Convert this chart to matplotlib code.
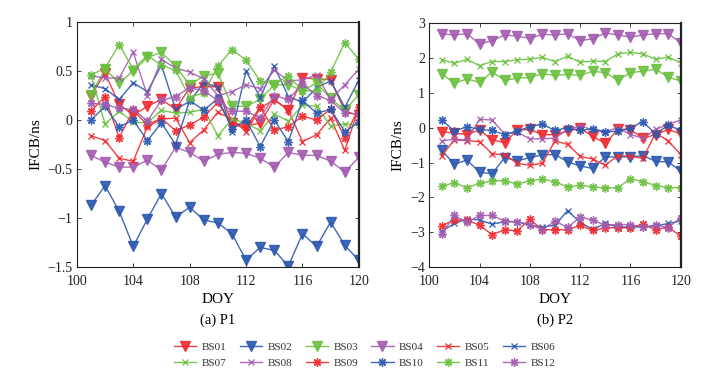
from matplotlib import pyplot as plt
import numpy as np

plt.rcParams['font.family'] = ['Liberation Serif', 'DejaVu Serif']

doy = np.arange(101, 121)
names = ['BS%02d' % i for i in range(1, 13)]

# P1 values (ns)
p1_bs01 = [0.25, 0.48, 0.16, 0.05, 0.14, 0.21, 0.11, 0.33, 0.34, 0.34, -0.03, -0.06, -0.03, 0.21, 0.10, 0.43, 0.42, 0.41, 0.09, 0.05]
p1_bs02 = [-0.87, -0.67, -0.93, -1.29, -1.01, -0.75, -0.99, -0.89, -1.02, -1.05, -1.16, -1.43, -1.30, -1.33, -1.49, -1.16, -1.29, -1.04, -1.28, -1.43]
p1_bs03 = [0.26, 0.52, 0.38, 0.50, 0.64, 0.69, 0.55, 0.36, 0.45, 0.48, 0.14, 0.14, 0.21, 0.36, 0.36, 0.30, 0.38, 0.22, 0.10, 0.26]
p1_bs04 = [-0.36, -0.43, -0.48, -0.48, -0.41, -0.51, -0.28, -0.33, -0.42, -0.35, -0.33, -0.34, -0.39, -0.48, -0.33, -0.36, -0.36, -0.42, -0.53, -0.38]
p1_bs05 = [-0.16, -0.21, -0.39, -0.42, -0.07, 0.01, 0.02, -0.23, -0.10, 0.08, 0.01, -0.12, 0.12, 0.21, 0.10, -0.22, -0.15, 0.02, -0.31, 0.13]
p1_bs06 = [0.36, 0.32, 0.21, 0.38, 0.29, 0.56, 0.11, 0.19, 0.38, 0.34, -0.12, 0.50, 0.23, 0.55, 0.24, 0.18, 0.33, 0.40, 0.13, 0.41]
p1_bs07 = [0.46, -0.04, 0.09, -0.02, -0.03, 0.10, 0.07, 0.08, 0.11, -0.16, 0.01, -0.03, -0.11, 0.06, -0.01, 0.15, 0.14, -0.06, -0.04, -0.05]
p1_bs08 = [0.45, 0.43, 0.43, 0.69, 0.25, 0.62, 0.53, 0.49, 0.42, 0.25, 0.29, 0.36, 0.32, 0.51, 0.40, 0.41, 0.46, 0.21, 0.36, 0.52]
p1_bs09 = [0.09, 0.24, -0.18, 0.10, -0.05, 0.02, -0.11, -0.05, 0.03, 0.18, -0.05, -0.07, 0.13, -0.10, -0.07, 0.04, 0.00, 0.11, -0.18, 0.13]
p1_bs10 = [0.00, 0.14, -0.07, 0.00, -0.21, -0.03, -0.25, 0.20, 0.10, 0.22, -0.09, 0.00, -0.27, 0.00, -0.22, 0.20, 0.07, 0.11, -0.12, -0.02]
p1_bs11 = [0.46, 0.53, 0.77, 0.52, 0.66, 0.56, 0.51, 0.23, 0.28, 0.55, 0.72, 0.61, 0.40, 0.37, 0.45, 0.30, 0.30, 0.49, 0.79, 0.62]
p1_bs12 = [0.17, 0.16, 0.12, 0.11, -0.01, 0.20, 0.24, 0.33, 0.30, 0.20, 0.09, 0.09, 0.02, 0.25, 0.21, 0.37, 0.25, 0.20, 0.07, 0.06]

# P2 values (ns)
p2_bs01 = [-0.12, -0.15, -0.20, -0.06, -0.35, -0.43, -0.07, -0.05, -0.20, -0.20, -0.10, -0.02, -0.25, -0.45, -0.05, -0.06, -0.30, -0.20, -0.05, -0.18]
p2_bs02 = [-0.65, -1.05, -0.93, -1.28, -1.32, -0.86, -0.95, -0.86, -0.78, -0.77, -0.98, -1.10, -1.17, -0.84, -0.84, -0.84, -0.80, -0.97, -0.98, -1.25]
p2_bs03 = [1.55, 1.28, 1.40, 1.30, 1.60, 1.36, 1.42, 1.44, 1.55, 1.50, 1.53, 1.50, 1.62, 1.58, 1.36, 1.58, 1.62, 1.68, 1.45, 1.34]
p2_bs04 = [2.70, 2.66, 2.70, 2.40, 2.50, 2.66, 2.63, 2.56, 2.68, 2.66, 2.70, 2.50, 2.55, 2.72, 2.66, 2.60, 2.66, 2.70, 2.70, 2.43]
p2_bs05 = [-0.80, -0.35, -0.37, -0.40, -0.75, -0.78, -1.02, -1.08, -1.02, -0.38, -0.48, -0.82, -0.90, -1.08, -0.80, -0.82, -0.88, -0.15, -0.38, -0.77]
p2_bs06 = [-2.98, -2.75, -2.62, -2.65, -2.77, -2.70, -2.70, -2.80, -2.85, -2.80, -2.38, -2.72, -2.92, -2.75, -2.85, -2.85, -2.85, -2.82, -2.75, -2.68]
p2_bs07 = [1.95, 1.85, 1.96, 1.78, 1.90, 1.90, 1.95, 1.97, 2.02, 1.90, 2.05, 1.88, 1.91, 1.90, 2.12, 2.16, 2.12, 1.96, 2.03, 1.86]
p2_bs08 = [-0.38, -0.33, -0.35, 0.24, 0.22, -0.18, -0.13, -0.32, -0.32, -0.30, -0.05, 0.05, -0.06, -0.12, 0.00, -0.20, -0.30, -0.05, 0.10, 0.22]
p2_bs09 = [-2.82, -2.65, -2.65, -2.80, -3.07, -2.93, -2.96, -2.63, -2.93, -2.93, -2.93, -2.80, -2.95, -2.87, -2.87, -2.87, -2.77, -2.93, -2.85, -3.12]
p2_bs10 = [0.22, -0.10, 0.03, -0.05, -0.08, -0.20, -0.10, 0.03, 0.10, -0.08, 0.00, -0.08, -0.03, -0.12, -0.10, 0.00, 0.17, -0.18, 0.07, -0.07]
p2_bs11 = [-1.68, -1.58, -1.72, -1.60, -1.52, -1.52, -1.62, -1.52, -1.48, -1.55, -1.70, -1.65, -1.70, -1.73, -1.72, -1.47, -1.55, -1.66, -1.72, -1.72]
p2_bs12 = [-3.06, -2.52, -2.72, -2.52, -2.52, -2.68, -2.70, -2.78, -2.93, -2.68, -2.86, -2.57, -2.65, -2.80, -2.78, -2.78, -2.86, -2.80, -2.87, -2.58]

p1 = [p1_bs01, p1_bs02, p1_bs03, p1_bs04, p1_bs05, p1_bs06,
      p1_bs07, p1_bs08, p1_bs09, p1_bs10, p1_bs11, p1_bs12]
p2 = [p2_bs01, p2_bs02, p2_bs03, p2_bs04, p2_bs05, p2_bs06,
      p2_bs07, p2_bs08, p2_bs09, p2_bs10, p2_bs11, p2_bs12]

red, blue, green, purple = '#f02a30', '#2b58b0', '#6cc040', '#a35cb0'
colors = [red, blue, green, purple] * 3
asterisk = (8, 2, 0)
markers = ['v'] * 4 + ['x'] * 4 + [asterisk] * 4
msizes = [6.5] * 4 + [5] * 4 + [6] * 4


def draw(ax, series, ylim, yticks):
    for k, vals in enumerate(series):
        ax.plot(doy, vals, color=colors[k], lw=1.0, alpha=0.9,
                marker=markers[k], ms=msizes[k], mec=colors[k], mfc=colors[k],
                mew=1.0, label=names[k])
    ax.set_xlim(100, 120)
    ax.set_ylim(*ylim)
    ax.set_xticks(np.arange(100, 121, 4))
    ax.set_yticks(yticks)
    ax.set_yticklabels([('%g' % t).replace('-', '\u2212') for t in yticks])
    ax.tick_params(direction='in', top=True, right=True, labelsize=10,
                   length=3, width=0.6, colors='#222222', pad=3)
    ax.tick_params(axis='x', pad=6)
    for s in ax.spines.values():
        s.set_linewidth(0.8)
        s.set_color('#222222')
    ax.spines['right'].set_linewidth(1.6)
    ax.set_xlabel('DOY', fontsize=11, labelpad=3)
    ax.set_ylabel('IFCB/ns', fontsize=11, labelpad=4)


fig = plt.figure(figsize=(7.25, 3.74), dpi=100)
ax1 = fig.add_axes([0.106, 0.286, 0.389, 0.655])
ax2 = fig.add_axes([0.592, 0.286, 0.347, 0.652])

draw(ax1, p1, (-1.5, 1), np.arange(-1.5, 1.01, 0.5))
draw(ax2, p2, (-4, 3), np.arange(-4, 3.1, 1))

fig.text(0.30, 0.145, '(a) P1', ha='center', va='center', fontsize=10.5)
fig.text(0.765, 0.145, '(b) P2', ha='center', va='center', fontsize=10.5)

# legend filled row by row
handles, labels = ax1.get_legend_handles_labels()
order = [i + r * 6 for i in range(6) for r in range(2)]
fig.legend([handles[i] for i in order], [labels[i] for i in order],
           loc='center', bbox_to_anchor=(0.503, 0.05),
           ncol=6, frameon=False, fontsize=8, handlelength=2.0,
           columnspacing=1.2, handletextpad=0.5, labelspacing=0.55,
           labelcolor='#333333')

fig.savefig('out.png', dpi=100)
